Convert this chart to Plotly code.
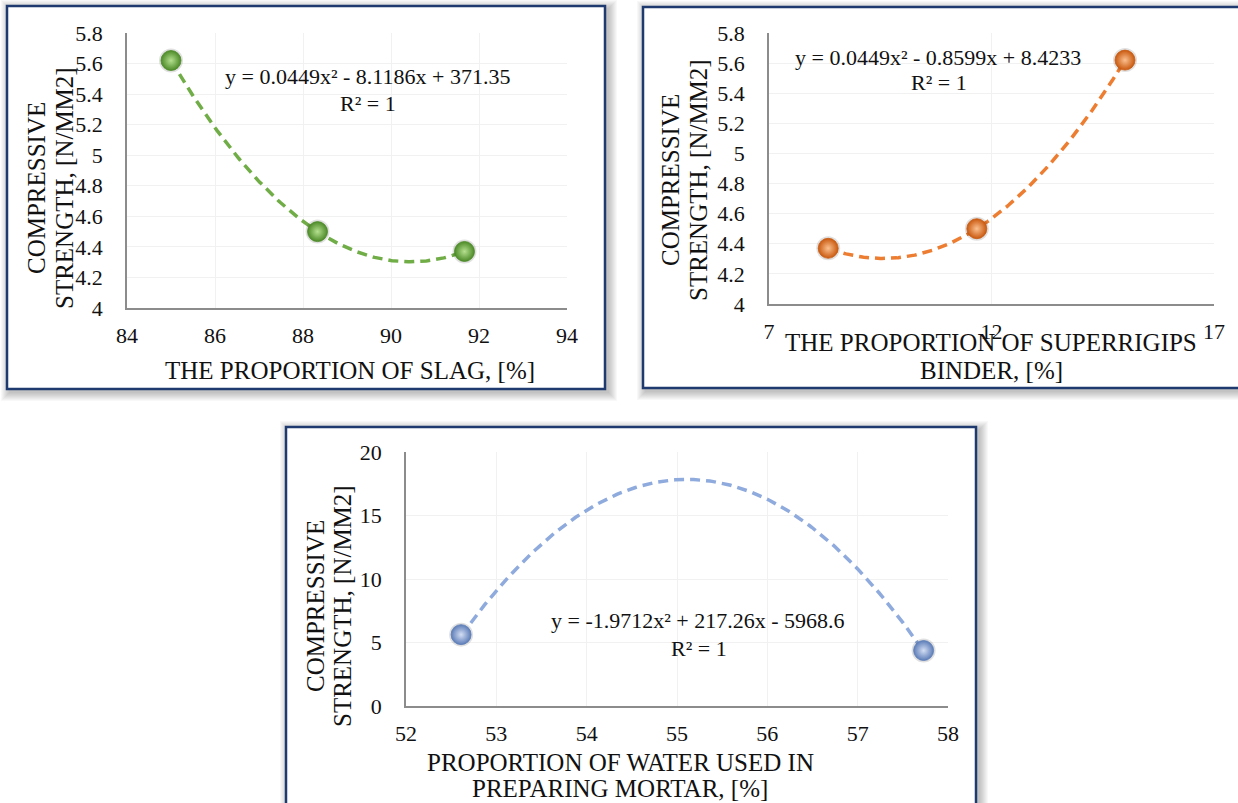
import numpy as np
import plotly.graph_objects as go

W, H = 1238, 803

# ---------------- data ----------------
slag_x = [85.0, 88.33, 91.67]
slag_y = [5.62, 4.50, 4.37]

binder_x = [8.33, 11.67, 15.0]
binder_y = [4.37, 4.50, 5.62]

water_x = [52.61, 57.73]
water_y = [5.62, 4.37]
water_coef = [-1.9712, 217.26, -5968.6]   # trendline shown in chart

slag_xticks = [84, 86, 88, 90, 92, 94]
binder_xticks = [7, 12, 17]
strength_yticks = [4.0, 4.2, 4.4, 4.6, 4.8, 5.0, 5.2, 5.4, 5.6, 5.8]
water_xticks = [52, 53, 54, 55, 56, 57, 58]
water_yticks = [0, 5, 10, 15, 20]

eq_slag = ["y = 0.0449x² - 8.1186x + 371.35", "R² = 1"]
eq_binder = ["y = 0.0449x² - 0.8599x + 8.4233", "R² = 1"]
eq_water = ["y = -1.9712x² + 217.26x - 5968.6", "R² = 1"]

ytitle = ["COMPRESSIVE", "STRENGTH, [N/MM2]"]
xtitle_slag = ["THE PROPORTION OF SLAG, [%]"]
xtitle_binder = ["THE PROPORTION OF SUPERRIGIPS", "BINDER, [%]"]
xtitle_water = ["PROPORTION OF WATER USED IN", "PREPARING MORTAR, [%]"]

# ---------------- helpers ----------------
def px(x):
    return x / W

def py(y):
    return 1 - y / H

FONT = "Liberation Serif"
TXT = "#111111"
AXC = "#8c8c8c"
GRID = "#f1f1f1"

fig = go.Figure()

def trend(xd, yd, coef=None, n=200):
    xs = np.linspace(min(xd), max(xd), n)
    if coef is None:
        coef = np.polyfit(xd, yd, 2)
    return xs, np.polyval(coef, xs)

panels = [
    dict(x=slag_x, y=slag_y, coef=None, line="#70AD47", edge="#4C8A28", center="#B5E08F", xa="x", ya="y"),
    dict(x=binder_x, y=binder_y, coef=None, line="#ED7D31", edge="#C9590F", center="#FBC08F", xa="x2", ya="y2"),
    dict(x=water_x, y=water_y, coef=water_coef, line="#8FAADC", edge="#5D7DB8", center="#D3DEF3", xa="x3", ya="y3"),
]

for p in panels:
    xs, ys = trend(p["x"], p["y"], p["coef"])
    fig.add_trace(go.Scatter(x=xs, y=ys, mode="lines", xaxis=p["xa"], yaxis=p["ya"],
                             line=dict(color=p["line"], width=3.5, dash="10px,6px"),
                             hoverinfo="skip", showlegend=False))
    fig.add_trace(go.Scatter(x=p["x"], y=p["y"], mode="markers", xaxis=p["xa"], yaxis=p["ya"],
                             marker=dict(size=24, color="rgba(0,0,0,0.12)", line=dict(width=0)),
                             hoverinfo="skip", showlegend=False))
    fig.add_trace(go.Scatter(x=p["x"], y=p["y"], mode="markers", xaxis=p["xa"], yaxis=p["ya"],
                             marker=dict(size=20, color=p["edge"],
                                         gradient=dict(type="radial", color=p["center"]),
                                         line=dict(width=0.8, color=p["edge"])),
                             showlegend=False))

# ---------------- panel frames ----------------
frames = [(7, 6, 605, 389), (643, 7, 1250, 388), (286, 427, 976, 820)]
shapes = []
for (x0, y0, x1, y1) in frames:
    for i in range(9, 0, -1):
        shapes.append(dict(type="rect", xref="paper", yref="paper", layer="below",
                           x0=px(x0 - i + 3), x1=px(x1 + i + 3), y0=py(y0 - i + 3), y1=py(y1 + i + 3),
                           fillcolor="rgba(0,0,0,0.028)", line=dict(width=0)))
    shapes.append(dict(type="rect", xref="paper", yref="paper", layer="below",
                       x0=px(x0), x1=px(x1), y0=py(y0), y1=py(y1),
                       fillcolor="white", line=dict(color="#1F3A6E", width=2.5)))

# ---------------- axes ----------------
def xax(dom, rng, ticks, anchor):
    return dict(domain=dom, range=rng, tickvals=ticks, anchor=anchor, showline=True,
                linecolor=AXC, linewidth=1.5, showgrid=True, gridcolor=GRID, gridwidth=1,
                zeroline=False, ticks="", ticklabelstandoff=7, automargin=False,
                tickfont=dict(family=FONT, size=22, color=TXT), fixedrange=True)

def yax(dom, rng, ticks, anchor):
    return dict(domain=dom, range=rng, tickvals=ticks, anchor=anchor, showline=True,
                linecolor=AXC, linewidth=1.5, showgrid=True, gridcolor=GRID, gridwidth=1,
                zeroline=False, ticks="", ticklabelstandoff=18, automargin=False,
                tickfont=dict(family=FONT, size=22, color=TXT), fixedrange=True)

layout = dict(
    template="none",
    width=W, height=H, margin=dict(l=0, r=0, t=0, b=0, pad=0, autoexpand=False),
    paper_bgcolor="white", plot_bgcolor="rgba(0,0,0,0)", showlegend=False,
    xaxis=xax([px(127), px(567)], [84, 94], slag_xticks, "y"),
    yaxis=yax([py(308), py(33)], [4, 5.8], strength_yticks, "x"),
    xaxis2=xax([px(769), px(1214)], [7, 17], binder_xticks, "y2"),
    yaxis2=yax([py(304), py(33)], [4, 5.8], strength_yticks, "x2"),
    xaxis3=xax([px(406), px(948)], [52, 58], water_xticks, "y3"),
    yaxis3=yax([py(706), py(452)], [0, 20], water_yticks, "x3"),
    shapes=shapes,
)
fig.update_layout(**layout)

# ---------------- text ----------------
def ann(text, x, y, size, angle=0):
    fig.add_annotation(text=text, xref="paper", yref="paper", x=px(x), y=py(y),
                       xanchor="center", yanchor="middle", showarrow=False, textangle=angle,
                       font=dict(family=FONT, size=size, color=TXT))

# y-axis titles (two rotated lines each)
for (xa, xb, yc) in [(36, 64, 188), (670, 698, 180), (315, 342, 606)]:
    ann(ytitle[0], xa, yc, 25, -90)
    ann(ytitle[1], xb, yc, 25, -90)

# x-axis titles
ann(xtitle_slag[0], 350, 370, 25)
ann(xtitle_binder[0], 991, 343, 25)
ann(xtitle_binder[1], 991, 370, 25)
ann(xtitle_water[0], 620, 762, 25)
ann(xtitle_water[1], 620, 788, 25)

# trendline equations
ann(eq_slag[0], 367, 77, 22)
ann(eq_slag[1], 368, 104, 22)
ann(eq_binder[0], 938, 57, 22)
ann(eq_binder[1], 939, 83, 22)
ann(eq_water[0], 698, 620, 22)
ann(eq_water[1], 699, 648, 22)

fig.write_html("out.html", config={"displayModeBar": False},
               post_script="document.body.style.margin='0';document.body.style.overflow='hidden';")
